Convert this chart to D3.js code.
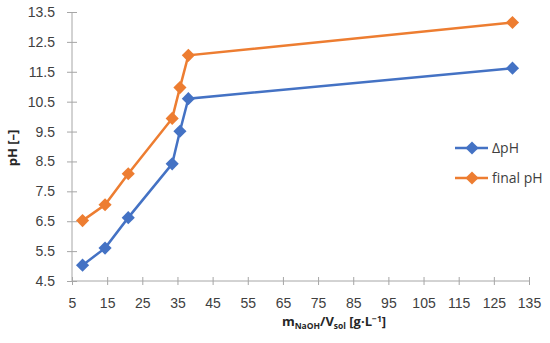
<html>
<head>
<meta charset="utf-8">
<script src="https://d3js.org/d3.v7.min.js"></script>
<style>
  body { margin: 0; background: #fff; }
  svg { font-family: "Open Sans", "Noto Sans", sans-serif; }
  .tick text { fill: #404040; font-size: 14px; }
  .axis path, .axis line { stroke: #a6a6a6; }
  .title { font-weight: bold; fill: #262626; font-size: 13px; }
  .legend text { fill: #404040; font-size: 14px; }
</style>
</head>
<body>
<div id="chart"></div>
<script>
// concentration m_NaOH/V_sol (g/L)
var conc = [8.0, 14.4, 21.0, 33.5, 35.7, 38.1, 130.3];
var deltaPH = [5.03, 5.6, 6.62, 8.42, 9.51, 10.6, 11.62];
var finalPH = [6.52, 7.05, 8.09, 9.94, 10.97, 12.05, 13.15];
var seriesNames = ["ΔpH", "final pH"];
var seriesColors = ["#4472C4", "#ED7D31"];
var xTicks = d3.range(5, 136, 10);
var yTicks = d3.range(4.5, 13.6, 1);

var width = 550, height = 343;
var plotL = 72, plotR = 529, plotT = 12, plotB = 281;

var x = d3.scaleLinear().domain([5, 135]).range([plotL, plotR]);
var y = d3.scaleLinear().domain([4.5, 13.5]).range([plotB, plotT]);

var svg = d3.select("#chart").append("svg")
    .attr("width", width).attr("height", height);

// axes with crossing tick marks
var xAxis = svg.append("g").attr("class", "axis")
    .attr("transform", "translate(0," + plotB + ")")
    .call(d3.axisBottom(x).tickValues(xTicks).tickSize(4).tickSizeOuter(0).tickPadding(13));
xAxis.selectAll(".tick line").attr("y1", -4);
xAxis.select(".domain").attr("d", "M" + plotL + ",0H" + plotR);

var yAxis = svg.append("g").attr("class", "axis")
    .attr("transform", "translate(" + plotL + ",0)")
    .call(d3.axisLeft(y).tickValues(yTicks).tickFormat(d3.format(".1f")).tickSize(5).tickSizeOuter(0).tickPadding(12));
yAxis.selectAll(".tick line").attr("x1", 5);
yAxis.select(".domain").attr("d", "M0," + plotT + "V" + plotB);

// series
var series = [deltaPH, finalPH].map(function(vals, i) {
  return { name: seriesNames[i], color: seriesColors[i],
           values: conc.map(function(c, j) { return { x: c, y: vals[j] }; }) };
});

var line = d3.line().x(d => x(d.x)).y(d => y(d.y));
var diamond = d3.symbol().type(d3.symbolDiamond2).size(110);

var g = svg.selectAll(".series").data(series).enter().append("g");
g.append("path")
    .attr("d", d => line(d.values))
    .attr("fill", "none")
    .attr("stroke", d => d.color)
    .attr("stroke-width", 2.5);
g.each(function(s) {
  d3.select(this).selectAll("path.pt").data(s.values).enter().append("path")
      .attr("class", "pt")
      .attr("d", diamond)
      .attr("transform", d => "translate(" + x(d.x) + "," + y(d.y) + ")")
      .attr("fill", s.color);
});

// axis titles
var xt = svg.append("text").attr("class", "title")
    .attr("x", 334).attr("y", 326).attr("text-anchor", "middle");
xt.append("tspan").text("m");
xt.append("tspan").attr("font-size", "8.5px").attr("dy", 3).text("NaOH");
xt.append("tspan").attr("dy", -3).text("/V");
xt.append("tspan").attr("font-size", "8.5px").attr("dy", 3).text("sol");
xt.append("tspan").attr("dy", -3).text(" [g·L");
xt.append("tspan").attr("font-size", "8.5px").attr("dy", -4).text("−1");
xt.append("tspan").attr("dy", 4).text("]");

svg.append("text").attr("class", "title")
    .attr("transform", "translate(17,148) rotate(-90)")
    .attr("text-anchor", "middle")
    .text("pH [–]");

// legend
var legend = svg.append("g").attr("class", "legend");
var li = legend.selectAll("g").data(series).enter().append("g")
    .attr("transform", (d, i) => "translate(455," + (148 + i * 30) + ")");
li.append("line").attr("x1", 0).attr("x2", 33)
    .attr("stroke", d => d.color).attr("stroke-width", 2.5);
li.append("path").attr("d", diamond).attr("transform", "translate(17,0)")
    .attr("fill", d => d.color);
li.append("text").attr("x", 37).attr("dy", "0.35em").text(d => d.name);
</script>
</body>
</html>
